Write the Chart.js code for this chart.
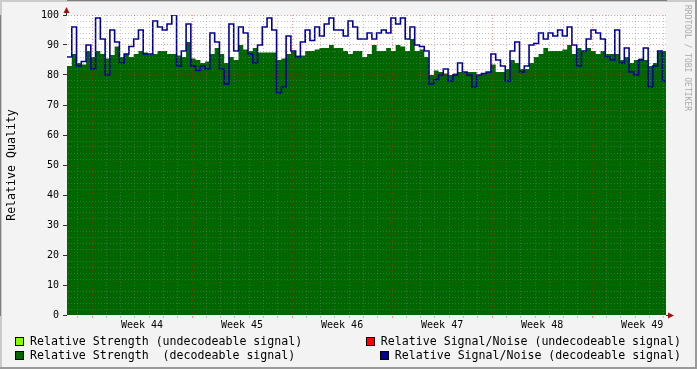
<!DOCTYPE html>
<html>
<head>
<meta charset="utf-8">
<script src="https://cdn.jsdelivr.net/npm/chart.js@4.4.1/dist/chart.umd.min.js"></script>
<style>
  html, body { margin: 0; padding: 0; background: #f3f3f3; }
  #wrap { position: relative; width: 697px; height: 369px; }
  .item { position: absolute; height: 14px; display: flex; align-items: center;
          font: 11.6px "DejaVu Sans Mono", monospace; color: #000; white-space: pre; }
  .box { width: 7px; height: 7px; border: 1px solid #000; margin-right: 6px; }
  #mark { position: absolute; left: 682px; top: 5px; width: 10px; line-height: 10px;
          writing-mode: vertical-rl; font: 8px "DejaVu Sans Mono", monospace; color: #aaa; }
</style>
</head>
<body>
<div id="wrap">
  <canvas id="chart" width="697" height="369"></canvas>
  <div id="mark">RRDTOOL / TOBI OETIKER</div>
  <div class="item" style="left:15px; top:334px"><span class="box" style="background:#80ff00"></span>Relative Strength (undecodeable signal)</div>
  <div class="item" style="right:16px; top:334px"><span class="box" style="background:#ff0000"></span>Relative Signal/Noise (undecodeable signal)</div>
  <div class="item" style="left:15px; top:348px"><span class="box" style="background:#006600"></span>Relative Strength  (decodeable signal)</div>
  <div class="item" style="right:16px; top:348px"><span class="box" style="background:#000099"></span>Relative Signal/Noise (decodeable signal)</div>
</div>
<script>
// sample spacing and time span of the graph, in hours
var STEP_HOURS = 8;
var END_HOURS = 1006;
var FIRST_WEEK = 44;

// Relative strength, decodeable signal (green area)
var strength = [
    83, 87, 84, 83.5, 88, 86, 88, 87, 85.5, 86.7, 89.5, 86, 87, 86, 87, 88, 87.5, 87, 87, 88, 88, 87,
    87, 86.5, 86, 91, 85.5, 85, 84, 84.5, 87, 89, 87, 84, 86, 85, 90, 88.5, 88, 89, 87.5, 87.5, 87.5, 87.5,
    85, 85.5, 87, 88, 86.5, 86.5, 88, 88, 88.5, 89, 89, 90, 89, 89, 88, 87, 88, 88, 86, 87, 90, 88,
    88, 89, 88, 90, 89.5, 88, 92, 88, 88.5, 86, 80, 81.5, 81, 80.5, 80, 80.5, 81, 81, 81, 81, 80, 80.5,
    81, 83.5, 81, 81, 82, 85, 84, 82, 82, 84, 86, 87, 89, 88, 88, 88, 88.5, 90, 87, 89, 88, 89,
    88, 87, 88, 87, 87, 87, 85, 86, 84, 85, 85.5, 85, 83, 84, 88, 88
];

// Relative signal/noise, decodeable signal (blue line)
var signalNoise = [
    86, 96, 83, 84.5, 90, 82, 99, 92, 80, 95, 91, 84, 87, 89.5, 92, 95, 87, 87, 98, 96, 95, 97,
    100, 83, 88, 97, 83, 81.5, 83, 82, 94, 91, 82, 77, 97, 88, 96, 94, 87, 84, 90, 96, 99, 95,
    74, 76, 93, 88, 86, 91, 95, 91.5, 96, 93, 97, 99, 95, 95, 93, 98, 96, 92, 92, 94, 92, 94,
    95, 94, 99, 97, 99, 92, 96, 90, 89.5, 88, 77, 78.5, 80, 82, 78, 80, 84, 81, 80, 76, 80, 80.5,
    81, 87, 85, 83, 78, 88, 91, 81, 83, 90, 90.5, 94, 92, 94, 93, 95, 93, 96, 90, 83, 88, 92,
    95, 94, 92, 86, 85, 95, 84, 89, 81, 80, 85, 89, 76, 83, 88, 78
];

// undecodeable series have no samples in this period
var strengthUndecodeable = [];
var signalNoiseUndecodeable = [];

// x ticks every 12 hours: day lines, week lines and mid-week labels
var xTicks = [];
for (var h = 6; h < END_HOURS; h += 12) xTicks.push(h);

function toPoints(values) {
    var pts = values.map((v, i) => ({ x: i * STEP_HOURS, y: v }));
    if (pts.length) pts.push({ x: END_HOURS, y: values[values.length - 1] });
    return pts;
}

function xGridColor(ctx) {
    if (!ctx.tick) return 'transparent';
    var v = ctx.tick.value;
    if ((v - 42) % 168 === 0) return 'rgba(255,0,0,0.4)';
    if ((v - 18) % 24 === 0) return 'rgba(128,128,128,0.45)';
    return 'transparent';
}

function yGridColor(ctx) {
    if (!ctx.tick) return 'transparent';
    var v = ctx.tick.value;
    if (v === 0) return 'transparent';
    return v % 10 === 0 ? 'rgba(255,0,0,0.4)' : 'rgba(128,128,128,0.45)';
}

// page background, white plot area, frame and axis arrows
var rrdFrame = {
    id: 'rrdFrame',
    beforeDraw(chart) {
        var ctx = chart.ctx, a = chart.chartArea, w = chart.width, hh = chart.height;
        ctx.save();
        ctx.fillStyle = '#f3f3f3';
        ctx.fillRect(0, 0, w, hh);
        ctx.fillStyle = '#ffffff';
        ctx.fillRect(a.left, a.top, a.right - a.left, a.bottom - a.top);
        ctx.fillStyle = '#cbcbcb';
        ctx.fillRect(0, 0, w, 2);
        ctx.fillRect(0, 0, 2, hh);
        ctx.fillStyle = '#9a9a9a';
        ctx.fillRect(0, hh - 2, w, 2);
        ctx.fillRect(w - 2, 0, 2, hh);
        ctx.restore();
    },
    afterDraw(chart) {
        var ctx = chart.ctx, a = chart.chartArea;
        var x0 = Math.round(a.left) - 0.5, y0 = Math.round(a.bottom) + 0.5;
        ctx.save();
        ctx.strokeStyle = '#333';
        ctx.lineWidth = 1;
        ctx.beginPath();
        ctx.moveTo(x0, a.top);
        ctx.lineTo(x0, a.top - 4);
        ctx.moveTo(a.right, y0);
        ctx.lineTo(a.right + 3, y0);
        ctx.stroke();
        ctx.fillStyle = '#a01010';
        ctx.beginPath();
        ctx.moveTo(x0 - 3, a.top - 2);
        ctx.lineTo(x0 + 3, a.top - 2);
        ctx.lineTo(x0, a.top - 8);
        ctx.closePath();
        ctx.fill();
        ctx.beginPath();
        ctx.moveTo(a.right + 2, y0 - 3);
        ctx.lineTo(a.right + 2, y0 + 3);
        ctx.lineTo(a.right + 8, y0);
        ctx.closePath();
        ctx.fill();
        ctx.restore();
    }
};

Chart.defaults.font.family = "'DejaVu Sans Mono', monospace";
Chart.defaults.font.size = 10;
Chart.defaults.color = '#000';

var ctx = document.getElementById('chart').getContext('2d');
var chart = new Chart(ctx, {
    type: 'line',
    data: {
        datasets: [{
            label: 'Relative Signal/Noise (decodeable signal)',
            data: toPoints(signalNoise),
            stepped: true,
            fill: false,
            borderColor: '#000099',
            borderWidth: 1.6,
            pointRadius: 0
        }, {
            label: 'Relative Strength  (decodeable signal)',
            data: toPoints(strength),
            stepped: true,
            fill: 'origin',
            backgroundColor: '#006600',
            borderWidth: 0,
            pointRadius: 0
        }, {
            label: 'Relative Signal/Noise (undecodeable signal)',
            data: toPoints(signalNoiseUndecodeable),
            borderColor: '#ff0000',
            pointRadius: 0
        }, {
            label: 'Relative Strength (undecodeable signal)',
            data: toPoints(strengthUndecodeable),
            backgroundColor: '#80ff00',
            pointRadius: 0
        }]
    },
    options: {
        responsive: false,
        animation: false,
        layout: { padding: { left: 0, top: 15, right: 31, bottom: 0 } },
        plugins: {
            legend: { display: false },
            tooltip: { enabled: false }
        },
        scales: {
            x: {
                type: 'linear',
                min: 0,
                max: END_HOURS,
                afterBuildTicks: s => { s.ticks = xTicks.map(v => ({ value: v })); },
                afterFit: s => { s.height = 54; },
                grid: { z: 1, color: xGridColor, tickLength: 3 },
                border: { color: '#333', dash: [1, 2] },
                ticks: {
                    autoSkip: false,
                    maxRotation: 0,
                    padding: 1,
                    callback: v => ((v - 126) % 168 === 0 ? 'Week ' + (FIRST_WEEK + (v - 126) / 168) : '')
                }
            },
            y: {
                min: 0,
                max: 100,
                afterFit: s => { s.width = 67; },
                grid: {
                    z: 1,
                    color: yGridColor,
                    tickColor: c => (c.tick && c.tick.value % 10 === 0 ? '#333' : 'transparent'),
                    tickLength: 4
                },
                border: { color: '#333', dash: [1, 2] },
                ticks: {
                    stepSize: 2,
                    padding: 4,
                    autoSkip: false,
                    callback: v => (v % 10 === 0 ? v : '')
                },
                title: {
                    display: true,
                    text: 'Relative Quality',
                    font: { size: 11.6 },
                    padding: { top: 5, bottom: 0 }
                }
            }
        }
    },
    plugins: [rrdFrame]
});
</script>
</body>
</html>
